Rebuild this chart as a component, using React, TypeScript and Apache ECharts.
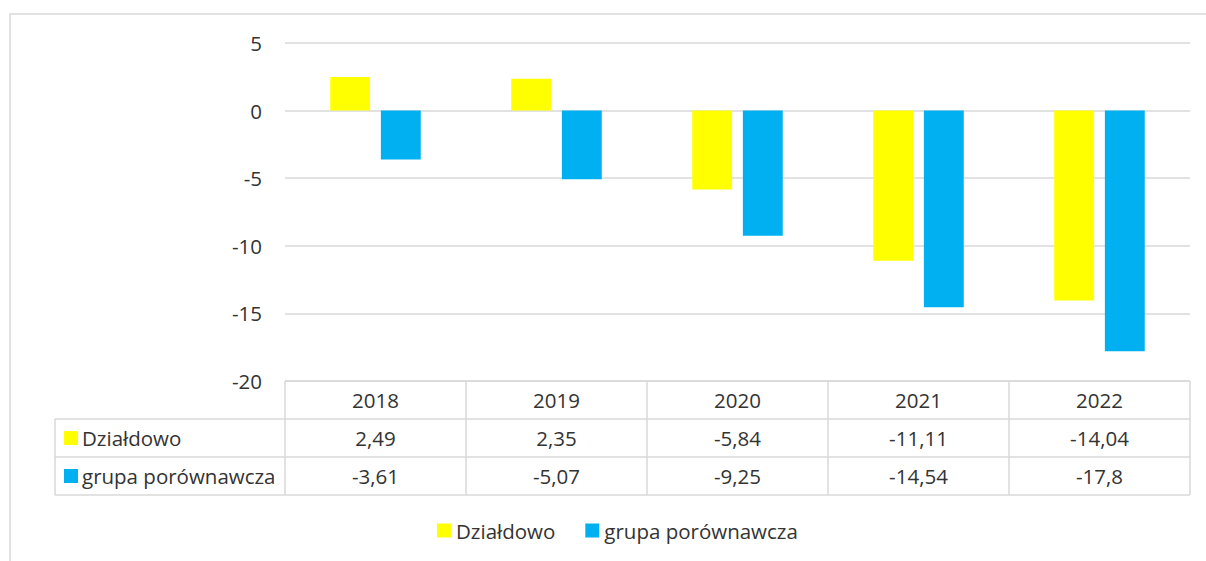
import React, { useEffect, useRef } from "react";
import * as echarts from "echarts";

const years = ["2018", "2019", "2020", "2021", "2022"];
const seriesNames = ["Działdowo", "grupa porównawcza"];
const dzialdowo = [2.49, 2.35, -5.84, -11.11, -14.04];
const grupa = [-3.61, -5.07, -9.25, -14.54, -17.8];
const colors = ["#FFFF00", "#00B0F0"];
const yTicks = { min: -20, max: 5, interval: 5 };

const FONT = "'Open Sans', 'Noto Sans', sans-serif";
const FS = 20.5;
const TXT = "#333333";
const LINE = "#d9d9d9";

export default function App() {
  const ref = useRef<HTMLDivElement>(null);
  useEffect(() => {
    if (!ref.current) return;
    const chart = echarts.init(ref.current, null, { renderer: "svg" });
    const gridLeft = 285;
    const gridRight = 1190;
    const gridTop = 43;
    const gridBottom = 381;
    const colW = (gridRight - gridLeft) / years.length;
    const rowH = 38;
    const tableLeft = 55;
    const rows = [gridBottom, gridBottom + rowH, gridBottom + 2 * rowH, gridBottom + 3 * rowH];

    const fmt = (v: number) => String(v).replace(".", ",");
    const graphic: any[] = [];
    graphic.push({
      type: "rect",
      shape: { x: 10, y: 14, width: 1400, height: 700 },
      style: { fill: "none", stroke: LINE, lineWidth: 1.5 },
      silent: true,
    });
    graphic.push({ type: "line", shape: { x1: gridLeft, y1: rows[0], x2: gridRight, y2: rows[0] }, style: { stroke: LINE, lineWidth: 1.5 } });
    for (let r = 1; r < rows.length; r++) {
      graphic.push({ type: "line", shape: { x1: tableLeft, y1: rows[r], x2: gridRight, y2: rows[r] }, style: { stroke: LINE, lineWidth: 1.5 } });
    }
    graphic.push({ type: "line", shape: { x1: tableLeft, y1: rows[1], x2: tableLeft, y2: rows[3] }, style: { stroke: LINE, lineWidth: 1.5 } });
    for (let c = 0; c <= years.length; c++) {
      const x = gridLeft + c * colW;
      graphic.push({ type: "line", shape: { x1: x, y1: rows[0], x2: x, y2: rows[3] }, style: { stroke: LINE, lineWidth: 1.5 } });
    }
    years.forEach((y, i) => {
      graphic.push({
        type: "text",
        x: gridLeft + (i + 0.5) * colW,
        y: (rows[0] + rows[1]) / 2,
        style: { text: y, fill: TXT, font: `${FS}px ${FONT}`, align: "center", verticalAlign: "middle" },
      });
    });
    const data = [dzialdowo, grupa];
    data.forEach((vals, r) => {
      const cy = (rows[r + 1] + rows[r + 2]) / 2;
      graphic.push({
        type: "rect",
        shape: { x: 64, y: cy - 7, width: 14, height: 14 },
        style: { fill: colors[r] },
      });
      graphic.push({
        type: "text",
        x: 82,
        y: cy,
        style: { text: seriesNames[r], fill: TXT, font: `${FS}px ${FONT}`, align: "left", verticalAlign: "middle" },
      });
      vals.forEach((v, i) => {
        graphic.push({
          type: "text",
          x: gridLeft + (i + 0.5) * colW,
          y: cy,
          style: { text: fmt(v), fill: TXT, font: `${FS}px ${FONT}`, align: "center", verticalAlign: "middle" },
        });
      });
    });

    chart.setOption({
      animation: false,
      textStyle: { fontFamily: FONT },
      grid: { left: gridLeft, right: 1206 - gridRight, top: gridTop, bottom: 561 - gridBottom, containLabel: false },
      legend: {
        data: seriesNames,
        top: 520,
        left: 437,
        padding: 0,
        icon: "rect",
        itemWidth: 14,
        itemHeight: 14,
        itemGap: 30,
        textStyle: { color: TXT, fontSize: FS, fontFamily: FONT },
      },
      xAxis: {
        type: "category",
        data: years,
        axisLine: { show: false },
        axisTick: { show: false },
        axisLabel: { show: false },
      },
      yAxis: {
        type: "value",
        min: yTicks.min,
        max: yTicks.max,
        interval: yTicks.interval,
        axisLine: { show: false },
        axisTick: { show: false },
        axisLabel: { color: TXT, fontSize: FS, fontFamily: FONT, margin: 23 },
        splitLine: { lineStyle: { color: LINE, width: 1.5 } },
      },
      series: [
        { name: seriesNames[0], type: "bar", data: dzialdowo, itemStyle: { color: colors[0] }, barGap: "27%", barCategoryGap: "50%" },
        { name: seriesNames[1], type: "bar", data: grupa, itemStyle: { color: colors[1] }, barGap: "27%", barCategoryGap: "50%" },
      ],
      graphic,
    });
    return () => chart.dispose();
  }, []);
  return <div ref={ref} style={{ position: "fixed", left: 0, top: 0, width: 1206, height: 561, background: "#fff" }} />;
}
